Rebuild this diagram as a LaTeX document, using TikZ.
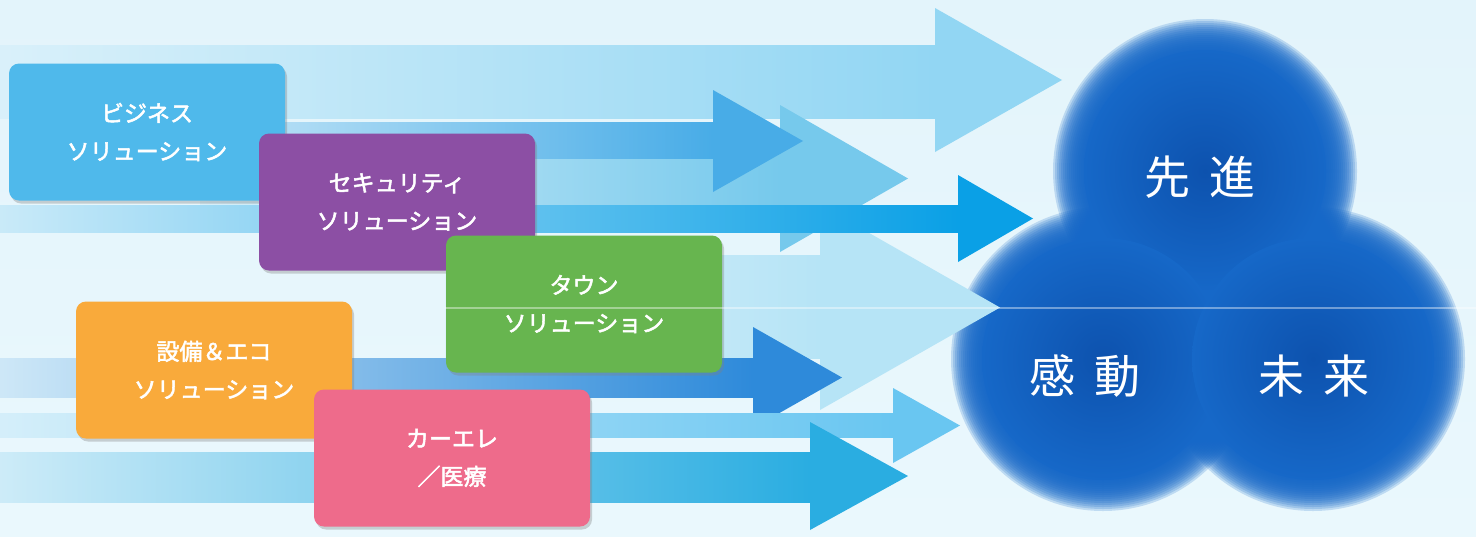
\documentclass[tikz,border=0pt]{standalone}
\usepackage{fontspec}
\newfontfamily\jp{Noto Sans CJK JP}
\newfontfamily\jpbold{Noto Sans CJK JP}[FakeBold=2.2]
\usetikzlibrary{shadows}

\definecolor{bgtop}{HTML}{E3F4FB}
\definecolor{bgbot}{HTML}{EAF8FD}
\definecolor{ball}{HTML}{1668C8}
\definecolor{balldark}{HTML}{0D52AE}
\definecolor{arrT}{HTML}{92D6F3}
\definecolor{arrD}{HTML}{B6E4F6}
\definecolor{arrB}{HTML}{76C9EC}
\definecolor{arrA}{HTML}{48ACE7}
\definecolor{arrC}{HTML}{0AA0E6}
\definecolor{arrE}{HTML}{2E8ADA}
\definecolor{arrF}{HTML}{69C6F1}
\definecolor{arrG}{HTML}{2AADE1}
\definecolor{cbiz}{HTML}{4FB9EB}
\definecolor{csec}{HTML}{8C4FA4}
\definecolor{ctown}{HTML}{67B54F}
\definecolor{ceco}{HTML}{F9AA3B}
\definecolor{ccare}{HTML}{EE6B8B}

\begin{document}
\begin{tikzpicture}
   [
      x=0.5pt, y=-0.5pt,
      solution/.style={rectangle, rounded corners=5pt, minimum width=138pt,
      minimum height=68.5pt, align=center, text=white,
      font=\jpbold\fontsize{11.5}{19}\selectfont,
      drop shadow={shadow xshift=1pt, shadow yshift=-1.5pt, opacity=0.35}},
      vision/.style={text=white, font=\jp\fontsize{23}{23}\selectfont}
   ]
   \shade[top color=bgtop, bottom color=bgbot] (0,0) rectangle (1476,536);
   \useasboundingbox (0,0) rectangle (1476,536);

   % the three balls, soft edge first
   \foreach \cx/\cy in {1205/171, 1103/359, 1313/359}
      \foreach \k in {0,...,17}
         \fill[ball, opacity=0.2] (\cx,\cy) circle ({152-2*\k});
   \foreach \cx/\cy in {1205/171, 1103/359, 1313/359}
      \shade[inner color=balldark, outer color=ball] (\cx,\cy) circle (121);

   % arrows: colour / shaft start / shaft top / shaft bottom / head base / head top / head bottom / tip
   \foreach \c/\xs/\ys/\ye/\xh/\hs/\he/\xt in {
      arrT/0/45/118/935/8/152/1062,
      arrD/445/255/358/820/205/410/1000,
      arrB/200/150/215/780/105/252/908,
      arrA/150/122/158/713/90/192/803,
      arrC/0/205/232/958/175/262/1033,
      arrE/0/358/397/753/327/428/842,
      arrF/0/413/437/893/388/463/960,
      arrG/0/452/502/810/422/530/908} {
      \shade[left color=\c!12!bgtop, right color=\c] (\xs,\ys) rectangle (\xh,\ye);
      \fill[\c] (\xh,\hs) -- (\xt,{(\hs+\he)/2}) -- (\xh,\he) -- cycle;
   }

   \node[solution, fill=cbiz] (biz) at (147,132) {ビジネス\\ソリューション};
   \node[solution, fill=csec] (sec) at (397,202) {セキュリティ\\ソリューション};
   \node[solution, fill=ctown] (town) at (584,304) {タウン\\ソリューション};
   \node[solution, fill=ceco] (eco) at (214,370) {設備＆エコ\\ソリューション};
   \node[solution, fill=ccare] (care) at (452,458) {カーエレ\\／医療};

   \draw[white, opacity=0.4, line width=0.6pt] (445,308) -- (1476,308);

   \node[vision] (senshin) at (1200,177) {先\hspace{0.4em}進};
   \node[vision] (kando) at (1085,376) {感\hspace{0.4em}動};
   \node[vision] (mirai) at (1314,376) {未\hspace{0.4em}来};
\end{tikzpicture}
\end{document}
